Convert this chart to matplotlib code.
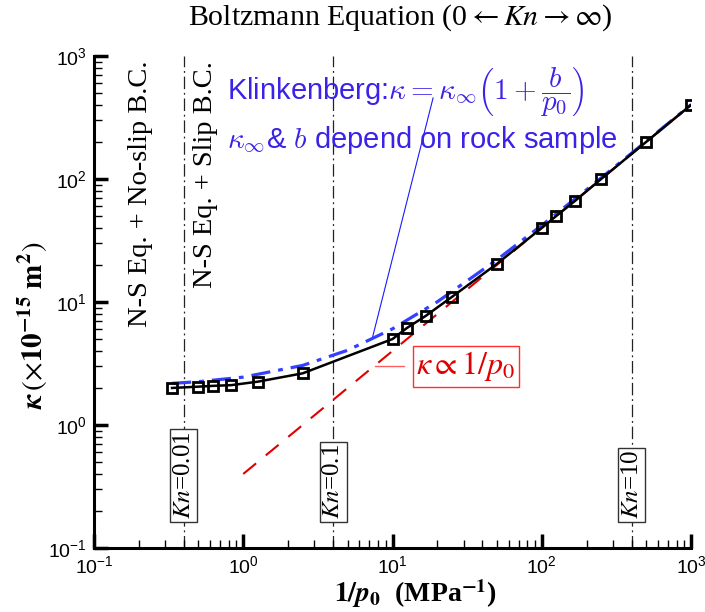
import matplotlib.pyplot as plt
from matplotlib.ticker import LogLocator

# measured permeability, kappa (1e-15 m^2) vs 1/p0 (MPa^-1)
inv_p0 = [1/3, 0.5, 0.625, 0.833, 1.25, 2.5, 10, 12.5, 16.67, 25, 50,
          100, 125, 166.7, 250, 500, 1000]
kappa = [2.0, 2.05, 2.08, 2.11, 2.25, 2.63, 5.0, 6.15, 7.7, 11.0, 20.4,
         40.0, 50.0, 66.2, 100, 200, 400]

# Klinkenberg fit (blue dash-dot)
klink_x = [1/3, 0.5, 1, 2.5, 5, 10, 20, 50, 100, 200, 500, 1000]
klink_k = [2.18, 2.25, 2.45, 3.05, 4.05, 6.05, 10.05, 22, 42, 82, 202, 402]

# kappa ~ 1/p0 asymptote (red dashed)
asym_x = [1, 1000]
asym_k = [0.4, 400]

# Knudsen number markers
kn_x = [0.4, 4, 400]
kn_labels = ['0.01', '0.1', '10']

plt.rcParams['font.family'] = ['Liberation Sans', 'DejaVu Sans']

fig = plt.figure(figsize=(7.05, 6.12), dpi=100)
ax = fig.add_axes([94/705, 64/612, 597/705, 492/612])

ax.set_xscale('log')
ax.set_yscale('log')
ax.set_xlim(0.1, 1000)
ax.set_ylim(0.1, 1000)

# vertical Kn lines with boxed labels
for xv, lab in zip(kn_x, kn_labels):
    ax.axvline(xv, color='#222222', lw=0.9, ls=(0, (10, 3, 1.5, 3)), zorder=1)
    ax.text(xv, 0.058, '$Kn$=' + lab, rotation=90, ha='center', va='bottom',
            transform=ax.get_xaxis_transform(), fontsize=18,
            family='Liberation Serif', math_fontfamily='stix',
            bbox=dict(boxstyle='square,pad=0.1', fc='white', ec='#333333', lw=1),
            zorder=3)

ax.plot(asym_x, asym_k, color='#e00000', lw=1.5, ls=(0, (8, 6)), zorder=2)
ax.plot(klink_x, klink_k, color='#3340ff', lw=2.3, ls=(0, (6, 2.5, 1.5, 2.5)), zorder=3)
ax.plot(inv_p0, kappa, color='black', lw=1.8, marker='s', ms=6.5, mfc='none',
        mew=2, zorder=4)

# regime labels
ax.text(0.1 * 10 ** ((140 - 94) / 149.2), 0.99, 'N-S Eq. + No-slip B.C.',
        rotation=90, ha='center', va='top', transform=ax.get_xaxis_transform(),
        fontsize=20.5, family='Liberation Serif')
ax.text(0.1 * 10 ** ((205 - 94) / 149.2), 0.99, 'N-S Eq. + Slip B.C.',
        rotation=90, ha='center', va='top', transform=ax.get_xaxis_transform(),
        fontsize=20.5, family='Liberation Serif')

# Klinkenberg annotation
kcol = '#3b22e8'
ax.text(0.223, 0.925, r'Klinkenberg:$\kappa=\kappa_\infty\left(1+\dfrac{b}{p_0}\right)$',
        transform=ax.transAxes, ha='left', va='center', color=kcol, fontsize=21,
        math_fontfamily='cm')
ax.text(0.223, 0.829, r'$\kappa_\infty$& $b$ depend on rock sample',
        transform=ax.transAxes, ha='left', va='center', color=kcol, fontsize=21,
        math_fontfamily='cm')
ax.plot([7.3, 18.7], [5.0, 456], color='#1a1aff', lw=0.8, zorder=2)

# kappa ~ 1/p0 annotation
ax.plot([7.6, 12], [3.0, 3.0], color='#ff6060', lw=1, zorder=2)
ax.text(31, 3.0, r'$\kappa \propto 1/p_0$', ha='center', va='center',
        color='#e00000', fontsize=23, math_fontfamily='stix',
        bbox=dict(boxstyle='square,pad=0.1', fc='white', ec='#ff3030', lw=1),
        zorder=5)

# axes style
for s in ['top', 'right']:
    ax.spines[s].set_visible(False)
for s in ['left', 'bottom']:
    ax.spines[s].set_linewidth(2.2)
ax.xaxis.set_major_locator(LogLocator(base=10, numticks=10))
ax.yaxis.set_major_locator(LogLocator(base=10, numticks=10))
ax.xaxis.set_minor_locator(LogLocator(base=10, subs=range(2, 10), numticks=20))
ax.yaxis.set_minor_locator(LogLocator(base=10, subs=range(2, 10), numticks=20))
ax.tick_params(which='major', direction='in', length=10, width=2.5,
               labelsize=14, pad=5, top=False, right=False)
ax.tick_params(which='minor', direction='in', length=6, width=1,
               top=False, right=False)

ax.set_xlabel(r'$\mathbf{1/}\mathbfit{p}_\mathbf{0}$  (MPa$^{\mathbf{-1}}$)',
              fontsize=20, family='Liberation Serif', fontweight='bold',
              math_fontfamily='stix', va='center')
ax.xaxis.set_label_coords(0.538, -0.093)
ax.set_ylabel(r'$\mathbfit{\kappa}\,(\times\mathbf{10^{-15}\ m^2})$',
              fontsize=21, family='Liberation Serif', math_fontfamily='stix')
ax.yaxis.set_label_coords(-0.074, 0.453)

fig.text(400 / 705, 1 - 18 / 612, r'Boltzmann Equation (0$\leftarrow$$Kn$$\rightarrow\infty$)',
         ha='center', va='center', fontsize=21.5, family='Liberation Serif',
         math_fontfamily='stix')

fig.savefig('out.png', dpi=100)
